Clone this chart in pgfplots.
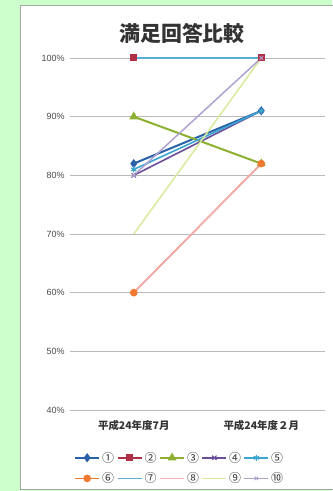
\documentclass[border=0pt]{standalone}
\usepackage{fontspec}
\setmainfont{Liberation Sans}
\newfontfamily\cjk{Noto Sans CJK JP}
\usepackage{pgfplots}
\pgfplotsset{compat=1.18}
\definecolor{bg}{HTML}{CCFFCC}
\definecolor{c1}{HTML}{2A62A8}
\definecolor{c2}{HTML}{B03048}
\definecolor{c3}{HTML}{8DB030}
\definecolor{c4}{HTML}{6A4E9A}
\definecolor{c5}{HTML}{3AA6D0}
\definecolor{c6}{HTML}{F07A30}
\definecolor{c7}{HTML}{5AAFCF}
\definecolor{c8}{HTML}{F0B0B8}
\definecolor{c9}{HTML}{D8EA9C}
\definecolor{c10}{HTML}{B0A2D0}
\begin{document}
\begin{tikzpicture}[x=1bp,y=1bp]
\useasboundingbox (0,0) rectangle (332,491);
\fill[bg] (0,0) rectangle (332,491);
\filldraw[fill=white,draw=gray!70,line width=0.8bp] (20.5,1.5) rectangle (345,486);
\node[font=\cjk\bfseries\fontsize{21}{24}\selectfont, text=black!80] at (182,458) {満足回答比較};
\begin{axis}[at={(70bp,81bp)},anchor=south west, scale only axis,
  width=255bp, height=352bp,
  xmin=-0.5, xmax=1.5, ymin=40, ymax=100,
  ytick={40,50,60,70,80,90,100},
  yticklabels={40\%,50\%,60\%,70\%,80\%,90\%,100\%},
  yticklabel style={font=\fontsize{9}{10}\selectfont, text=black!70, xshift=-2bp},
  xtick={0,1},
  xticklabels={平成24年度7月,平成24年度２月},
  xticklabel style={font=\cjk\bfseries\fontsize{10.5}{12}\selectfont, text=black!80, yshift=-7bp},
  axis line style={draw=none}, tick style={draw=none},
  ymajorgrids, grid style={gray!55, line width=0.9bp},
  clip=false,
  legend columns=5,
  legend style={draw=none, fill=none, at={(0.43,-0.165)}, anchor=center,
    font=\cjk\fontsize{12}{13}\selectfont, text=black!80,
    /tikz/every even column/.append style={column sep=0.5bp},
    /tikz/every odd column/.append style={column sep=0bp},
    row sep=5bp, inner sep=0pt},
  legend image code/.code={\draw[mark repeat=2,mark phase=2,#1] plot coordinates {(0bp,0bp) (12bp,0bp) (24bp,0bp)};},
]
\addplot[c1, line width=2bp, mark=diamond*, mark size=3bp] coordinates {(0,82) (1,91)};
\addlegendentry{①}
\addplot[c2, line width=2bp, mark=square*, mark size=2.5bp] coordinates {(0,100) (1,100)};
\addlegendentry{②}
\addplot[c3, line width=2bp, mark=triangle*, mark size=3.2bp] coordinates {(0,90) (1,82)};
\addlegendentry{③}
\addplot[c4, line width=1.6bp, mark=x, mark size=3bp, mark options={line width=1.2bp}] coordinates {(0,80) (1,91)};
\addlegendentry{④}
\addplot[c5, line width=1.6bp, mark=asterisk, mark size=3bp, mark options={line width=1.2bp}] coordinates {(0,81) (1,91)};
\addlegendentry{⑤}
\addplot[c6, line width=1.6bp, mark=*, mark size=3bp] coordinates {(0,60) (1,82)};
\addlegendentry{⑥}
\addplot[c7, line width=1.5bp] coordinates {(0,100) (1,100)};
\addlegendentry{⑦}
\addplot[c8, line width=1.5bp] coordinates {(0,60) (1,82)};
\addlegendentry{⑧}
\addplot[c9, line width=1.5bp] coordinates {(0,70) (1,100)};
\addlegendentry{⑨}
\addplot[c10, line width=1.5bp, mark=x, mark size=2.5bp, mark options={line width=1bp}] coordinates {(0,80) (1,100)};
\addlegendentry{⑩}
\end{axis}
\end{tikzpicture}
\end{document}
